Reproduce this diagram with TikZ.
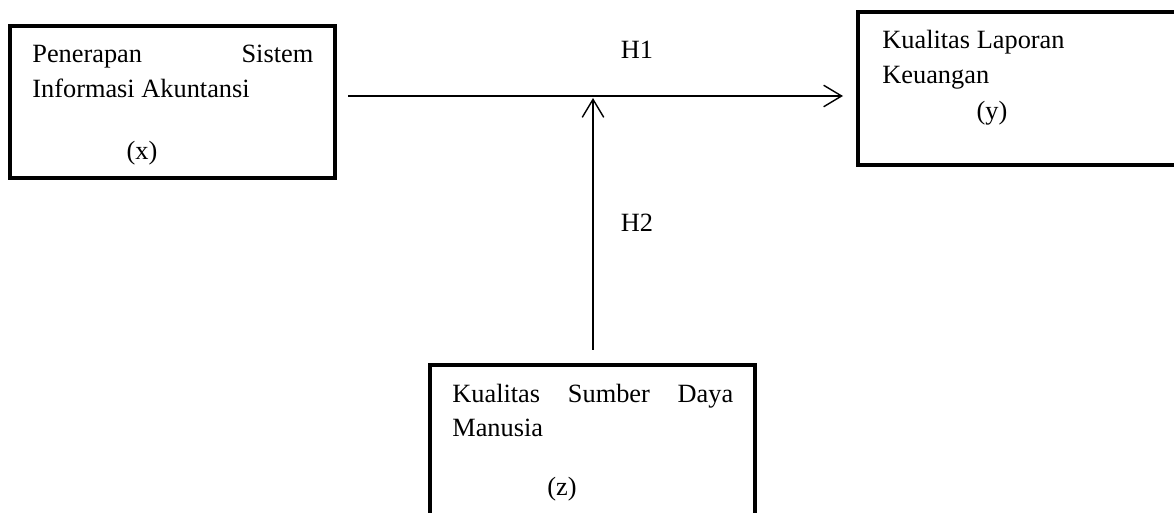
\documentclass[tikz,border=0pt]{standalone}
\usepackage{fontspec}
\setmainfont{Liberation Serif}
\usetikzlibrary{arrows.meta}

\begin{document}
\begin{tikzpicture}[x = 0.02cm, y = -0.02cm,
    kotak/.style = {draw, line width = 2.3pt, anchor = north west, inner sep = 0pt, outer sep = 0pt},
    teks/.style = {font = \fontsize{15}{19.8}\selectfont, inner sep = 0pt},
    panah/.style = {line width = 0.8pt, -{Straight Barb[length = 0.36cm, width = 0.43cm]}}]
    \useasboundingbox (0,0) rectangle (1174,513);
    % kotak variabel
    \node[kotak, minimum width = 6.5cm, minimum height = 3.04cm] (x) at (10,26) {};
    \node[kotak, minimum width = 6.7cm, minimum height = 3.06cm] (y) at (858,12) {};
    \node[kotak, minimum width = 6.5cm, minimum height = 3.6cm] (z) at (430,365) {};
    % isi kotak
    \node[teks, anchor = base west] (teksx) at (32,63)
        {\parbox[t]{5.62cm}{Penerapan\hfill Sistem\\Informasi Akuntansi}};
    \node[teks, anchor = base] (labelx) at (142,160) {(x)};
    \node[teks, anchor = base west] (teksy) at (882,49)
        {\parbox[t]{5.62cm}{Kualitas Laporan\\Keuangan}};
    \node[teks, anchor = base] (labely) at (992,120) {(y)};
    \node[teks, anchor = base west] (teksz) at (452,402)
        {\parbox[t]{5.62cm}{Kualitas\hfill Sumber\hfill Daya\\Manusia}};
    \node[teks, anchor = base] (labelz) at (562,495) {(z)};
    % hipotesis
    \node[teks, anchor = base] (h1) at (637,59) {H1};
    \node[teks, anchor = base] (h2) at (637,232) {H2};
    \coordinate (mulai) at (348,96);
    \coordinate (akhir) at (843,96);
    \coordinate (bawah) at (593,350);
    \coordinate (temu) at (593,98);
    \draw[panah] (mulai) -- (akhir);
    \draw[panah] (bawah) -- (temu);
\end{tikzpicture}
\end{document}
